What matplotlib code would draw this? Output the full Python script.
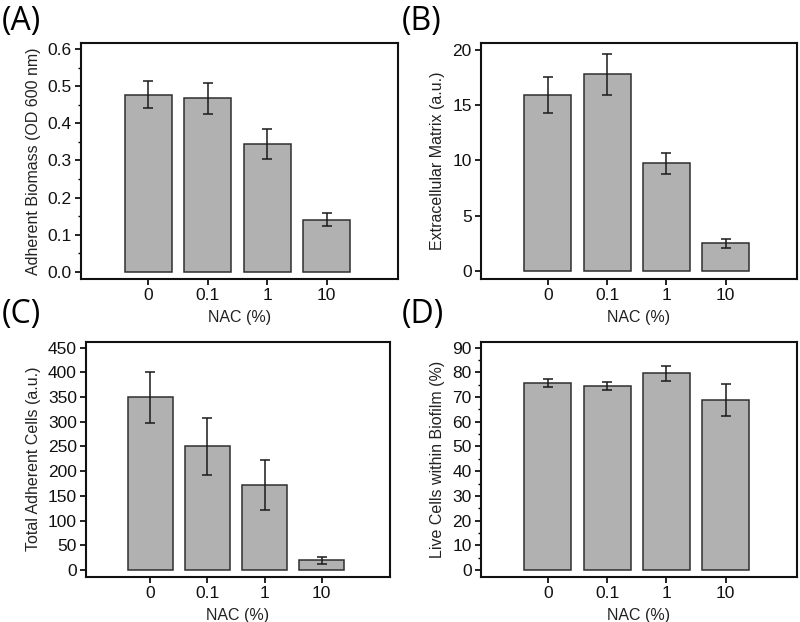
import matplotlib
matplotlib.use("Agg")
import matplotlib.pyplot as plt
from matplotlib.ticker import FormatStrFormatter, MultipleLocator
import numpy as np

plt.rcParams["font.family"] = ["Liberation Sans", "DejaVu Sans"]

nac_labels = ["0", "0.1", "1", "10"]

biomass = [0.477, 0.467, 0.344, 0.141]
biomass_err = [0.036, 0.042, 0.041, 0.018]

matrix = [15.9, 17.8, 9.75, 2.52]
matrix_err = [1.6, 1.85, 0.95, 0.4]

total_cells = [349.5, 250.3, 172.0, 20.0]
total_cells_err = [52.0, 58.0, 50.0, 7.0]

live_cells = [75.8, 74.5, 79.6, 68.7]
live_cells_err = [1.7, 1.8, 3.0, 6.5]

BAR_COLOR = "#b1b1b1"
EDGE_COLOR = "#2f2f2f"


def draw_panel(ax, values, errors, ylabel, ylim, major, minor=None):
    x = np.arange(len(nac_labels))
    ax.bar(x, values, width=0.79, color=BAR_COLOR, edgecolor=EDGE_COLOR, linewidth=1.1,
           yerr=errors, error_kw=dict(ecolor="#1a1a1a", elinewidth=1.1, capsize=3.8, capthick=1.1))
    ax.set_xticks(x)
    ax.set_xticklabels(nac_labels)
    ax.set_xlim(-1.13, 4.2)
    ax.set_ylim(*ylim)
    ax.yaxis.set_major_locator(MultipleLocator(major))
    if minor is not None:
        ax.yaxis.set_minor_locator(MultipleLocator(minor))
    ax.tick_params(axis="both", direction="out", length=4.5, width=1.3, labelsize=12.5,
                   colors="#111111", pad=2)
    ax.tick_params(axis="y", which="minor", direction="out", length=2.5, width=1.0)
    for sp in ax.spines.values():
        sp.set_linewidth(1.5)
        sp.set_color("#111111")
    ax.set_ylabel(ylabel, fontsize=11.5, color="#222222", labelpad=5)
    ax.set_xlabel("NAC (%)", fontsize=11.5, color="#222222", labelpad=5)


fig = plt.figure(figsize=(8, 6.22), dpi=100)

ax_a = fig.add_axes([0.101, 0.5514, 0.3965, 0.3795])
ax_b = fig.add_axes([0.601, 0.5514, 0.3952, 0.3795])
ax_c = fig.add_axes([0.1075, 0.0728, 0.38, 0.3778])
ax_d = fig.add_axes([0.601, 0.0728, 0.3952, 0.3778])

draw_panel(ax_a, biomass, biomass_err, "Adherent Biomass (OD 600 nm)", (-0.019, 0.616), 0.1, 0.05)
ax_a.yaxis.set_major_formatter(FormatStrFormatter("%.1f"))
draw_panel(ax_b, matrix, matrix_err, "Extracellular Matrix (a.u.)", (-0.7, 20.6), 5)
draw_panel(ax_c, total_cells, total_cells_err, "Total Adherent Cells (a.u.)", (-13.5, 462), 50)
draw_panel(ax_d, live_cells, live_cells_err, "Live Cells within Biofilm (%)", (-2.7, 92.4), 10, 5)

label_font = ["Open Sans", "DejaVu Sans"]
fig.text(0.002, 0.966, "(A)", fontsize=23, family=label_font, va="center", ha="left")
fig.text(0.502, 0.966, "(B)", fontsize=23, family=label_font, va="center", ha="left")
fig.text(0.002, 0.495, "(C)", fontsize=23, family=label_font, va="center", ha="left")
fig.text(0.502, 0.495, "(D)", fontsize=23, family=label_font, va="center", ha="left")

fig.savefig("out.png", dpi=100)
